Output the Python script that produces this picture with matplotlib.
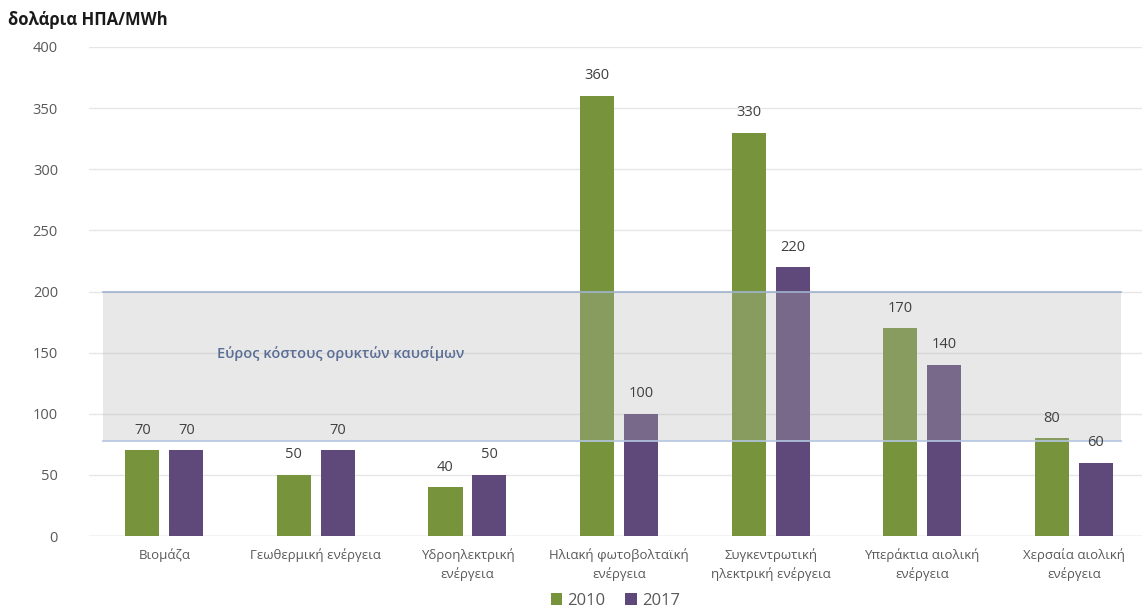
import matplotlib
matplotlib.use("Agg")
import matplotlib.pyplot as plt
import numpy as np

plt.rcParams['font.family'] = ['Open Sans', 'DejaVu Sans']

categories = [
    "Βιομάζα",
    "Γεωθερμική ενέργεια",
    "Υδροηλεκτρική\nενέργεια",
    "Ηλιακή φωτοβολταϊκή\nενέργεια",
    "Συγκεντρωτική\nηλεκτρική ενέργεια",
    "Υπεράκτια αιολική\nενέργεια",
    "Χερσαία αιολική\nενέργεια",
]
cost_2010 = [70, 50, 40, 360, 330, 170, 80]
cost_2017 = [70, 70, 50, 100, 220, 140, 60]
series_labels = ["2010", "2017"]
fossil_range = (78, 200)
yticks = [0, 50, 100, 150, 200, 250, 300, 350, 400]

green = "#77933c"
purple = "#5f497a"
tick_grey = "#595959"

fig = plt.figure(figsize=(11.42, 6.12), dpi=100)
ax = fig.add_axes([88.5 / 1142, 76 / 612, (1142 - 88.5) / 1142, 489 / 612])

x = np.arange(len(categories))
w = 0.225
off = 0.145
b1 = ax.bar(x - off, cost_2010, w, color=green, zorder=2, label=series_labels[0])
b2 = ax.bar(x + off, cost_2017, w, color=purple, zorder=2, label=series_labels[1])

for bars, vals in ((b1, cost_2010), (b2, cost_2017)):
    for rect, v in zip(bars, vals):
        ax.annotate(str(v), (rect.get_x() + rect.get_width() / 2, v),
                    xytext=(0, 9), textcoords="offset points",
                    ha="center", va="bottom", fontsize=10.5, color="#404040", zorder=5)

# fossil fuel cost band drawn over the bars
lo, hi = fossil_range
ax.fill_between([-0.404, 6.31], lo, hi, color="#b4b4b4", alpha=0.3, lw=0, zorder=3)
ax.plot([-0.404, 6.31], [hi, hi], color="#9fb3cf", lw=1.2, zorder=4)
ax.plot([-0.404, 6.31], [lo, lo], color="#b4c6e0", lw=1.2, zorder=4)
ax.text(1.166, 149, "Εύρος κόστους ορυκτών καυσίμων", ha="center", va="center",
        fontsize=10.5, fontweight="semibold", color="#5a6e96", zorder=5)

ax.set_xlim(-0.5, 6.45)
ax.set_ylim(0, 400)
ax.set_yticks(yticks)
ax.set_xticks(x)
ax.set_xticklabels(categories, fontsize=9.5, color=tick_grey, linespacing=1.45)
ax.tick_params(axis="y", length=0, pad=22, labelsize=10.5, labelcolor=tick_grey)
ax.tick_params(axis="x", length=0, pad=9)
ax.grid(axis="y", color="#e6e6e6", lw=1, zorder=0)
ax.set_axisbelow(True)
for s in ax.spines.values():
    s.set_visible(False)
ax.axhline(0, color="#d9d9d9", lw=1, zorder=1)

fig.text(8 / 1142, 1 - 20 / 612, "δολάρια ΗΠΑ/MWh", fontsize=12, fontweight="bold",
         color="#1a1a1a", ha="left", va="center")

ax.legend(loc="center", bbox_to_anchor=(0.5, -0.132), ncol=2, frameon=False,
          fontsize=12, handlelength=0.7, handleheight=0.7, handletextpad=0.3,
          columnspacing=1.2, labelcolor=tick_grey)

fig.savefig("out.png", dpi=100)
